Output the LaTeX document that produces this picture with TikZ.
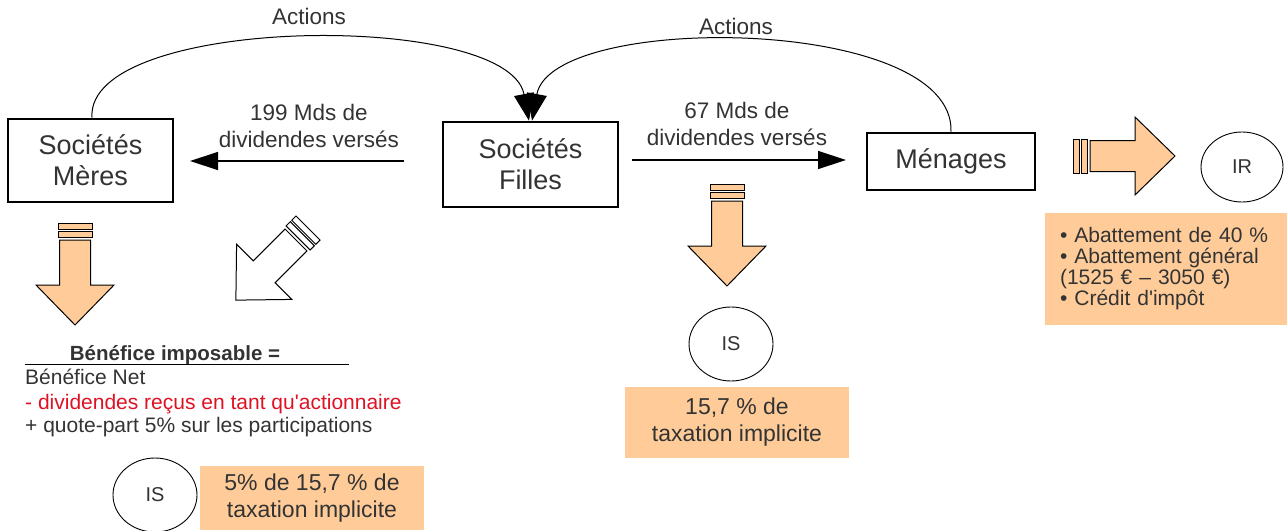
\documentclass[tikz,border=0pt]{standalone}
\usepackage{fontspec}
\setmainfont{Liberation Sans}[Ligatures=TeXOff]
\usetikzlibrary{arrows.meta,shapes.geometric,calc}
\definecolor{peach}{RGB}{255,204,153}
\definecolor{txt}{RGB}{51,51,51}
\definecolor{redtxt}{RGB}{222,18,36}
\tikzset{
  fatarrow/.pic={
    \path[pic actions] (0,-17) rectangle (6,17);
    \path[pic actions] (8,-17) rectangle (14,17);
    \path[pic actions] (17,-15.5) -- (62,-15.5) -- (62,-39) -- (102,0) -- (62,39) -- (62,15.5) -- (17,15.5) -- cycle;
  }
}
\begin{document}
\begin{tikzpicture}[x=1pt,y=-1pt,
  every node/.style={text=txt},
  entity/.style={draw=black, line width=2.6pt, inner sep=0pt, align=center, font=\fontsize{27}{31}\selectfont},
  lbl/.style={align=center, inner sep=0pt, font=\fontsize{22.5}{27}\selectfont},
  flow/.style={line width=1.3pt, -{Triangle[length=28pt,width=18pt]}},
  arcflow/.style={line width=1pt, -{Triangle[length=27pt,width=20pt]}},
  tax/.style={ellipse, draw=black, line width=0.9pt, inner sep=0pt, minimum width=84pt, minimum height=74pt, font=\fontsize{20}{24}\selectfont},
  note/.style={fill=peach, inner sep=0pt, align=center, font=\fontsize{23}{27}\selectfont},
  orangearrow/.style={draw=black, line width=1pt, fill=peach},
  whitearrow/.style={draw=black, line width=1pt, fill=white},
  txtline/.style={anchor=base west, inner sep=0pt, font=\fontsize{21}{24}\selectfont}
]
\useasboundingbox (0,0) rectangle (1287,530);

% entities
\node[entity, minimum width=165pt, minimum height=83pt] (meres) at (90.5,160.5) {Sociétés\\Mères};
\node[entity, minimum width=175pt, minimum height=85pt] (filles) at (530.5,164.5) {Sociétés\\Filles};
\node[entity, minimum width=168pt, minimum height=57pt] (menages) at (951,161.5) {Ménages};

% dividend flows
\coordinate (d1s) at (404,161);
\coordinate (d1e) at (190,161);
\draw[flow] (d1s) -- (d1e);
\node[lbl] (l199) at (309,125.5) {199 Mds de\\dividendes versés};

\coordinate (d2s) at (632,160);
\coordinate (d2e) at (846,160);
\draw[flow] (d2s) -- (d2e);
\node[lbl] (l67) at (737,123.5) {67 Mds de\\dividendes versés};

% actions arcs
\draw[arcflow] ($(meres.north)+(1.5,0)$) .. controls (85,15) and (508,10) .. ($(filles.north)+(-1.5,0)$);
\node[lbl] (act1) at (309,16) {Actions};
\draw[arcflow] (menages.north) .. controls (955,15) and (552,12) .. ($(filles.north)+(1.5,0)$);
\node[lbl] (act2) at (736,26) {Actions};

% fat arrows
\pic[orangearrow, rotate=-90] (fa1) at (75,223) {fatarrow};
\pic[orangearrow, rotate=-90] (fa2) at (727,184) {fatarrow};
\pic[orangearrow] (fa3) at (1073,156) {fatarrow};
\pic[whitearrow, rotate=-135] (fa4) at (308,228) {fatarrow};

% Benefice imposable block
\node[anchor=base, inner sep=0pt, font=\bfseries\fontsize{20.5}{24}\selectfont] (bi) at (175,360) {Bénéfice imposable =};
\draw[line width=1pt] (25,364) -- (349,364);
\node[txtline] (bn) at (25,384) {Bénéfice Net};
\node[txtline, text=redtxt] (dr) at (25,409) {- dividendes reçus en tant qu'actionnaire};
\node[txtline] (qp) at (25,432) {+ quote-part 5\% sur les participations};

% taxes
\node[tax] (is1) at (155,495) {IS};
\node[note, minimum width=224pt, minimum height=64pt] (n1) at (312,498) {5\% de 15,7 \% de\\taxation implicite};

\node[tax] (is2) at (731,344) {IS};
\node[note, minimum width=224pt, minimum height=71pt] (n2) at (737,422.5) {15,7 \% de\\taxation implicite};

\node[tax, minimum width=82pt, minimum height=70pt] (ir) at (1242,167) {IR};
\node[note, minimum width=242pt, minimum height=112pt, text width=212pt, align=left, font=\fontsize{21}{21}\selectfont] (n3) at (1166,269) {• Abattement de 40 \%\\• Abattement général\\(1525 € – 3050 €)\\• Crédit d'impôt};
\end{tikzpicture}
\end{document}
